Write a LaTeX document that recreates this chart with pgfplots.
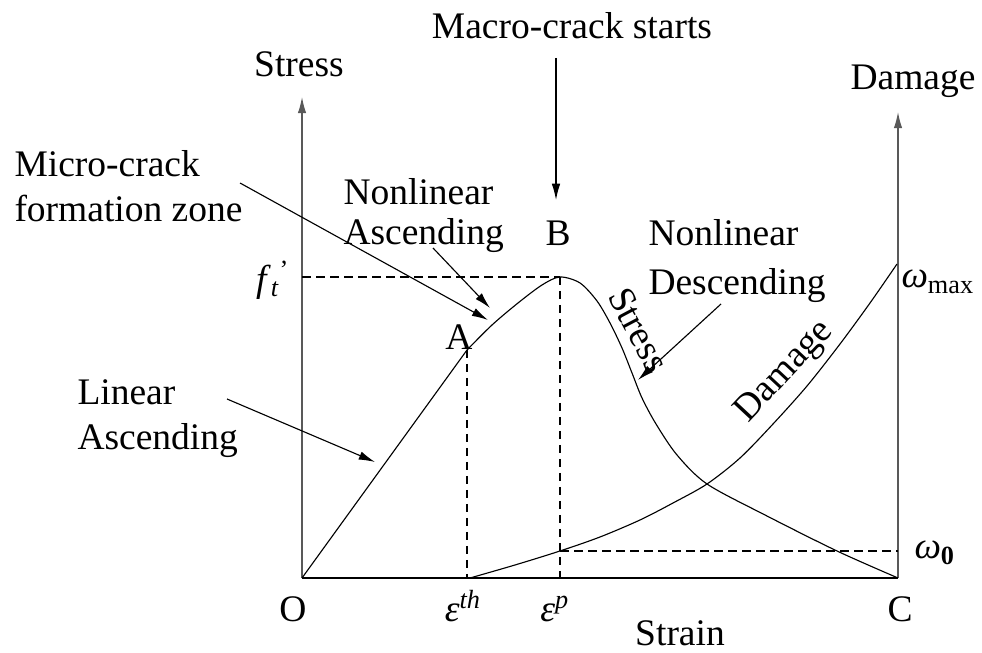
\documentclass[border=0pt]{standalone}
\usepackage{pgfplots}
\pgfplotsset{compat=1.18}
\usepackage{fontspec}
\setmainfont{Liberation Serif}
\usetikzlibrary{arrows.meta}

% stress and damage curves, in picture units (x to the right, y downwards)
\begin{document}
\begin{tikzpicture}[font=\fontsize{15}{18}\selectfont,
    >={Latex[length=6.5pt,width=3.4pt]}]
\begin{axis}[scale only axis, width=392.8pt, height=261.2pt,
    xmin=0, xmax=982, ymin=0, ymax=653, y dir=reverse,
    hide axis, clip=false]

% axes
\draw[gray!70!black, line width=0.5pt, ->] (axis cs:302,578) -- (axis cs:302,97);
\draw[gray!70!black, line width=0.5pt, ->] (axis cs:898,578) -- (axis cs:898,112);
\draw[black, line width=1.1pt] (axis cs:302,578) -- (axis cs:898,578);

% dashed guides
\draw[black, line width=0.45pt, dash pattern=on 3.4pt off 2.2pt] (axis cs:302,277) -- (axis cs:560,277);
\draw[black, line width=0.45pt, dash pattern=on 3.4pt off 2.2pt] (axis cs:467,350) -- (axis cs:467,578);
\draw[black, line width=0.45pt, dash pattern=on 3.4pt off 2.2pt] (axis cs:560,277) -- (axis cs:560,578);
\draw[black, line width=0.45pt, dash pattern=on 3.4pt off 2.2pt] (axis cs:560,551) -- (axis cs:898,551);

% stress: linear part
\addplot[black, line width=0.45pt] coordinates {(302,578) (467,350)};
% stress: nonlinear ascending and descending
\addplot[black, line width=0.45pt, smooth] coordinates {
(467,350) (492,325) (518,303) (542,285) (560,277) (580,283) (597,301)
(610,323) (622,348) (632,373) (642,398) (656,424) (677,455) (707,484)
(765,515) (837,551) (898,578)};
% damage
\addplot[black, line width=0.45pt, smooth] coordinates {
(470,578) (515,565) (560,551) (600,537) (640,520) (673,503) (707,484)
(740,458) (773,424) (807,386) (840,344) (870,303) (897,264)};

% annotation arrows
\draw[black, line width=0.45pt, ->] (axis cs:556,58) -- (axis cs:556,200);
\draw[black, line width=0.45pt, ->] (axis cs:240,183) -- (axis cs:488,320);
\draw[black, line width=0.45pt, ->] (axis cs:433,248) -- (axis cs:490,308);
\draw[black, line width=0.45pt, ->] (axis cs:721,304) -- (axis cs:638,380);
\draw[black, line width=0.45pt, ->] (axis cs:227,399) -- (axis cs:375,462);

% text
\begin{scope}[every node/.style={inner sep=0pt}]
\node[anchor=base] at (axis cs:572,39) {Macro-crack starts};
\node[anchor=base] at (axis cs:299,77) {Stress};
\node[anchor=base] at (axis cs:913,90) {Damage};
\node[anchor=base west] at (axis cs:14,177) {Micro-crack};
\node[anchor=base west] at (axis cs:14,222) {formation zone};
\node[anchor=base west] at (axis cs:343,205) {Nonlinear};
\node[anchor=base west] at (axis cs:343,245) {Ascending};
\node[anchor=base] at (axis cs:558,246) {B};
\node[anchor=base west] at (axis cs:648,246) {Nonlinear};
\node[anchor=base west] at (axis cs:648,295) {Descending};
\node[anchor=base] at (axis cs:459,350) {A};
\node[anchor=base west] at (axis cs:77,405) {Linear};
\node[anchor=base west] at (axis cs:77,450) {Ascending};
\node[anchor=east] at (axis cs:290,280)
    {\textit{f}\rlap{\textsubscript{\textit{t}}}\textsuperscript{\,\,'}};
\node[anchor=base] at (axis cs:293,622) {O};
\node[anchor=base] at (axis cs:463,622) {\textit{ε}\textsuperscript{\textit{th}}};
\node[anchor=base] at (axis cs:555,622) {\textit{ε}\textsuperscript{\textit{p}}};
\node[anchor=base] at (axis cs:900,622) {C};
\node[anchor=base] at (axis cs:680,646) {Strain};
\node[anchor=west] at (axis cs:914,553) {\textit{ω}\textsubscript{\textbf{0}}};
\node[anchor=west] at (axis cs:901,282) {\textit{ω}\textsubscript{max}};
\node[rotate=-62] at (axis cs:639,330) {Stress};
\node[rotate=47] at (axis cs:785,372) {Damage};
\end{scope}
\end{axis}
\pgfresetboundingbox
\path (current axis.south west) rectangle (current axis.north east);
\end{tikzpicture}
\end{document}
